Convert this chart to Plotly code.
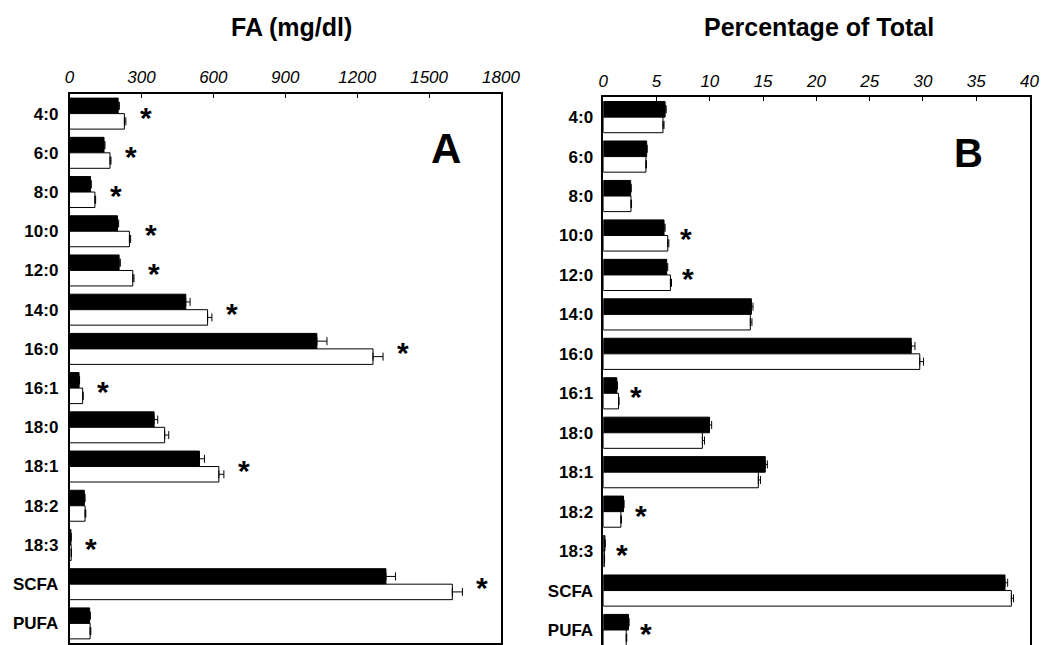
import plotly.graph_objects as go

categories = ["4:0", "6:0", "8:0", "10:0", "12:0", "14:0", "16:0", "16:1",
              "18:0", "18:1", "18:2", "18:3", "SCFA", "PUFA"]

# Panel A: FA (mg/dl)
a_black = [203, 144, 88, 200, 207, 485, 1032, 40, 353, 542, 62, 6, 1320, 84]
a_black_err = [5, 4, 3, 5, 5, 18, 42, 2, 15, 21, 3, 1, 40, 3]
a_white = [229, 169, 106, 250, 264, 576, 1266, 55, 397, 623, 65, 7, 1597, 86]
a_white_err = [6, 4, 3, 5, 5, 18, 42, 2, 17, 21, 3, 1, 42, 3]
a_sig = [1, 1, 1, 1, 1, 1, 1, 1, 0, 1, 0, 1, 1, 0]

# Panel B: Percentage of Total
b_black = [5.8, 4.07, 2.57, 5.7, 5.95, 13.9, 28.9, 1.27, 9.97, 15.2, 1.9, 0.15, 37.7, 2.37]
b_black_err = [0.1, 0.05, 0.05, 0.1, 0.1, 0.15, 0.35, 0.05, 0.2, 0.2, 0.05, 0.02, 0.25, 0.05]
b_white = [5.6, 4.0, 2.6, 6.05, 6.3, 13.8, 29.7, 1.43, 9.3, 14.55, 1.65, 0.1, 38.3, 2.15]
b_white_err = [0.1, 0.05, 0.05, 0.1, 0.1, 0.15, 0.35, 0.05, 0.2, 0.2, 0.05, 0.02, 0.2, 0.05]
b_sig = [0, 0, 0, 1, 1, 0, 0, 1, 0, 0, 1, 1, 0, 1]

a_ticks = [0, 300, 600, 900, 1200, 1500, 1800]
b_ticks = [0, 5, 10, 15, 20, 25, 30, 35, 40]

FONT = "Liberation Sans, Arial, sans-serif"
W, H = 1042, 645

fig = go.Figure()

def add_pair(black, berr, white, werr, xa, ya):
    fig.add_trace(go.Bar(
        y=categories, x=black, orientation="h", xaxis=xa, yaxis=ya,
        marker=dict(color="black", line=dict(color="black", width=1)),
        error_x=dict(type="data", array=berr, arrayminus=[0] * len(berr),
                     symmetric=False, color="black", thickness=1, width=4),
        showlegend=False, hoverinfo="skip"))
    fig.add_trace(go.Bar(
        y=categories, x=white, orientation="h", xaxis=xa, yaxis=ya,
        marker=dict(color="white", line=dict(color="black", width=1)),
        error_x=dict(type="data", array=werr, arrayminus=[0] * len(werr),
                     symmetric=False, color="black", thickness=1, width=4),
        showlegend=False, hoverinfo="skip"))

add_pair(a_black, a_black_err, a_white, a_white_err, "x", "y")
add_pair(b_black, b_black_err, b_white, b_white_err, "x2", "y2")

tickfont = dict(family=FONT, size=17, color="black", style="italic")
catfont = dict(family=FONT, size=17, color="black", weight="bold")

fig.update_layout(
    width=W, height=H, autosize=False,
    margin=dict(l=0, r=0, t=0, b=0, autoexpand=False),
    paper_bgcolor="white", plot_bgcolor="white",
    barmode="group", bargap=0.21, bargroupgap=0.0,
    xaxis=dict(domain=[69.5 / W, 501 / W], range=[0, 1800], side="top",
               tickvals=a_ticks, ticktext=[str(t) for t in a_ticks],
               ticks="inside", ticklen=4, tickcolor="black",
               showline=True, linecolor="black", linewidth=1.5, mirror=True,
               showgrid=False, zeroline=False, tickfont=tickfont,
               ticklabelstandoff=2, automargin=False, anchor="y"),
    yaxis=dict(domain=[2 / H, (H - 94) / H], range=[13.5, -0.5],
               type="category", showline=True, linecolor="black",
               linewidth=1.5, mirror=True, showgrid=False, ticks="",
               tickfont=catfont, ticklabelstandoff=6, automargin=False,
               anchor="x"),
    xaxis2=dict(domain=[603.3 / W, 1029.5 / W], range=[0, 40], side="top",
                tickvals=b_ticks, ticktext=[str(t) for t in b_ticks],
                ticks="inside", ticklen=4, tickcolor="black",
                showline=True, linecolor="black", linewidth=1.5, mirror=False,
                showgrid=False, zeroline=False, tickfont=tickfont,
                ticklabelstandoff=2, automargin=False, anchor="y2"),
    yaxis2=dict(domain=[0, (H - 97.4) / H], range=[13.38, -0.5],
                type="category", showline=True, linecolor="black",
                linewidth=1.5, mirror=True, showgrid=False, ticks="",
                tickfont=catfont, ticklabelstandoff=5, automargin=False,
                anchor="x2"),
)

annotations = []
# Titles
annotations.append(dict(text="<b>FA (mg/dl)</b>", x=291 / W, y=(H - 27) / H,
                        xref="paper", yref="paper", showarrow=False,
                        xanchor="center", yanchor="middle",
                        font=dict(family=FONT, size=25, color="black")))
annotations.append(dict(text="<b>Percentage of Total</b>", x=819 / W, y=(H - 27) / H,
                        xref="paper", yref="paper", showarrow=False,
                        xanchor="center", yanchor="middle",
                        font=dict(family=FONT, size=25, color="black")))
# Panel letters
annotations.append(dict(text="<b>A</b>", x=446 / W, y=(H - 148) / H,
                        xref="paper", yref="paper", showarrow=False,
                        xanchor="center", yanchor="middle",
                        font=dict(family=FONT, size=42, color="black")))
annotations.append(dict(text="<b>B</b>", x=968 / W, y=(H - 153) / H,
                        xref="paper", yref="paper", showarrow=False,
                        xanchor="center", yanchor="middle",
                        font=dict(family=FONT, size=40, color="black")))

# Significance asterisks
def add_stars(black, berr, white, werr, sig, xr, yr, shift):
    for i, c in enumerate(categories):
        if sig[i]:
            xm = max(black[i] + berr[i], white[i] + werr[i])
            annotations.append(dict(text="<b>*</b>", x=xm, y=c, xref=xr, yref=yr,
                                    showarrow=False, xanchor="center",
                                    yanchor="middle", xshift=shift, yshift=4,
                                    height=18, valign="top",
                                    font=dict(family=FONT, size=30, color="black")))

add_stars(a_black, a_black_err, a_white, a_white_err, a_sig, "x", "y", 20)
add_stars(b_black, b_black_err, b_white, b_white_err, b_sig, "x2", "y2", 17)

fig.update_layout(annotations=annotations)

fig.write_html("out.html", config={"displayModeBar": False},
               post_script="document.body.style.margin='0';document.body.style.overflow='hidden';")
